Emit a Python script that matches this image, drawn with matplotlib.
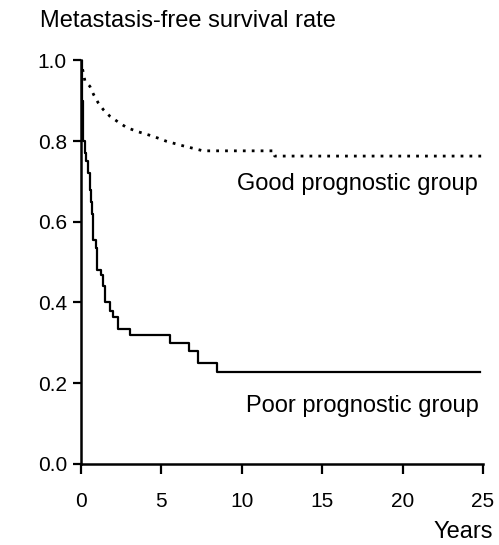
import numpy as np
import matplotlib as mpl
mpl.use('Agg')
import matplotlib.pyplot as plt

mpl.rcParams['font.family'] = ['Liberation Sans', 'DejaVu Sans']
mpl.rcParams['font.size'] = 17

# Good prognostic group (dotted)
good_t = [0, 0.1, 0.25, 0.56, 0.8, 1.08, 1.4, 1.8, 2.3, 2.84, 3.5, 4.5, 5.3, 6.2, 7.0, 7.6, 12.0, 12.05, 25]
good_s = [1.0, 0.98, 0.95, 0.936, 0.915, 0.895, 0.878, 0.862, 0.848, 0.834, 0.824, 0.812, 0.80, 0.79, 0.782, 0.776, 0.776, 0.763, 0.763]

# Poor prognostic group (solid, step)
poor_t = [0, 0.05, 0.14, 0.25, 0.35, 0.45, 0.55, 0.62, 0.7, 0.77, 0.93, 1.0, 1.28, 1.37, 1.5, 1.8, 2.0, 2.3, 3.05, 5.55, 6.75, 7.3, 8.45, 24.8]
poor_s = [1.0, 0.90, 0.80, 0.77, 0.75, 0.72, 0.68, 0.65, 0.62, 0.556, 0.536, 0.48, 0.469, 0.44, 0.40, 0.38, 0.365, 0.333, 0.32, 0.30, 0.279, 0.25, 0.228, 0.228]

xticks = [0, 5, 10, 15, 20, 25]
yticks = [0.0, 0.2, 0.4, 0.6, 0.8, 1.0]

fig = plt.figure(figsize=(4.99, 5.45), dpi=100)
ax = fig.add_axes([0.162, 0.149, 0.806, 0.74])

ax.plot(good_t, good_s, color='black', lw=2.0, linestyle=(0, (1, 2.2)))
ax.plot(poor_t, poor_s, color='black', lw=1.6, drawstyle='steps-post')

ax.set_xlim(0, 25)
ax.set_ylim(0, 1.0)
ax.set_xticks(xticks)
ax.set_xticklabels([str(t) for t in xticks], fontsize=15)
ax.set_yticks(yticks)
ax.set_yticklabels(['%.1f' % v for v in yticks], fontsize=15)

for s in ['top', 'right']:
    ax.spines[s].set_visible(False)
for s in ['left', 'bottom']:
    ax.spines[s].set_linewidth(1.8)
ax.tick_params(axis='x', direction='out', length=7.5, width=1.6, pad=13)
ax.tick_params(axis='y', direction='out', length=6, width=1.6, pad=4)

ax.text(24.69, 0.68, 'Good prognostic group', ha='right', va='baseline')
ax.text(24.75, 0.129, 'Poor prognostic group', ha='right', va='baseline')

fig.text(40 / 499, 1 - 27 / 545, 'Metastasis-free survival rate', ha='left', va='baseline')
fig.text(493 / 499, 1 - 538 / 545, 'Years', ha='right', va='baseline')

fig.savefig('out.png', dpi=100)
